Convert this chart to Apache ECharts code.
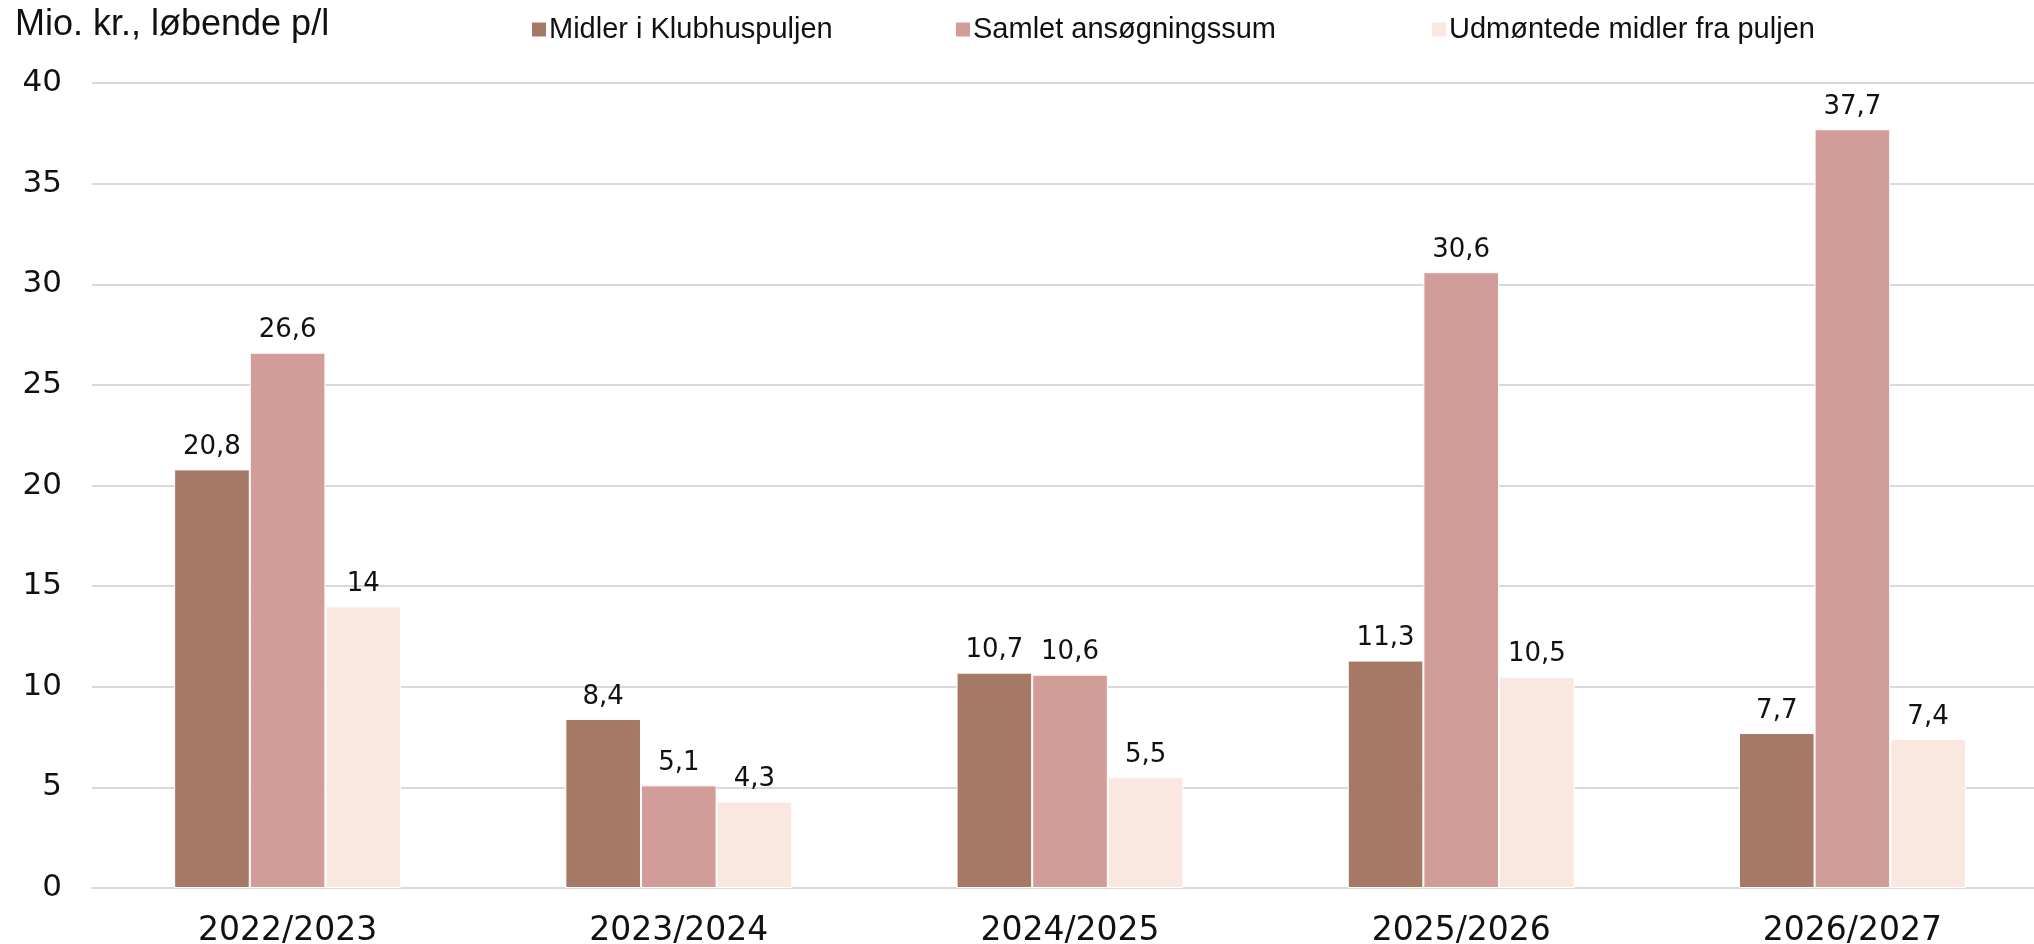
<!doctype html>
<html>
    <head>
        <meta charset="utf-8">
        <style>
            html, body { margin: 0; padding: 0; background: #fff; }
            #main { width: 2034px; height: 944px; }
        </style>
    </head>
    <body>
        <div id="main"></div>
        <script src="https://cdn.jsdelivr.net/npm/echarts@6/dist/echarts.min.js"></script>
        <script>
            var chart = echarts.init(document.getElementById('main'));

            var years = ['2022/2023', '2023/2024', '2024/2025', '2025/2026', '2026/2027'];
            var puljen = [20.8, 8.4, 10.7, 11.3, 7.7];
            var ansoegt = [26.6, 5.1, 10.6, 30.6, 37.7];
            var udmoentet = [14, 4.3, 5.5, 10.5, 7.4];
            var names = ['Midler i Klubhuspuljen', 'Samlet ansøgningssum', 'Udmøntede midler fra puljen'];
            var colors = ['#a57966', '#d29c98', '#fae7e0'];

            var numFont = 'DejaVu Sans';
            var textFont = 'Liberation Sans';

            function bar(name, data, color) {
                return {
                    name: name,
                    type: 'bar',
                    data: data,
                    barGap: '0%',
                    barCategoryGap: '42%',
                    itemStyle: {
                        color: color,
                        borderColor: '#fff',
                        borderWidth: 1
                    },
                    label: {
                        show: true,
                        position: 'top',
                        distance: 9,
                        fontFamily: numFont,
                        fontSize: 26,
                        color: '#111',
                        formatter: function (p) {
                            return String(p.value).replace('.', ',');
                        }
                    }
                };
            }

            function legendAt(left, name) {
                return {
                    left: left,
                    top: 10,
                    icon: 'rect',
                    itemWidth: 16,
                    itemHeight: 16,
                    itemGap: 0,
                    selectedMode: false,
                    data: [name],
                    textStyle: {
                        fontFamily: textFont,
                        fontSize: 29,
                        color: '#111',
                        padding: [0, 0, 0, -3]
                    }
                };
            }

            chart.setOption({
                animation: false,
                title: {
                    text: 'Mio. kr., løbende p/l',
                    left: 10,
                    top: 2,
                    textStyle: {
                        fontFamily: textFont,
                        fontSize: 36,
                        fontWeight: 'normal',
                        color: '#111'
                    }
                },
                legend: [
                    legendAt(525, names[0]),
                    legendAt(949, names[1]),
                    legendAt(1425, names[2])
                ],
                // the plot runs a little past the right edge, as in the source
                grid: {
                    left: 92,
                    width: 1956,
                    top: 83,
                    bottom: 56,
                    containLabel: false,
                    outerBoundsMode: 'none'
                },
                xAxis: {
                    type: 'category',
                    data: years,
                    axisTick: { show: false },
                    axisLine: { lineStyle: { color: '#d9d9d9', width: 2 } },
                    axisLabel: {
                        fontFamily: numFont,
                        fontSize: 33,
                        color: '#111',
                        margin: 27
                    }
                },
                yAxis: {
                    type: 'value',
                    min: 0,
                    max: 40,
                    interval: 5,
                    axisLine: { show: false },
                    axisTick: { show: false },
                    splitLine: { lineStyle: { color: '#d9d9d9', width: 2 } },
                    axisLabel: {
                        fontFamily: numFont,
                        fontSize: 31,
                        color: '#111',
                        margin: 30
                    }
                },
                series: [
                    bar(names[0], puljen, colors[0]),
                    bar(names[1], ansoegt, colors[1]),
                    bar(names[2], udmoentet, colors[2])
                ]
            });

            window.addEventListener('resize', function () {
                chart.resize();
            });
        </script>
    </body>
</html>
